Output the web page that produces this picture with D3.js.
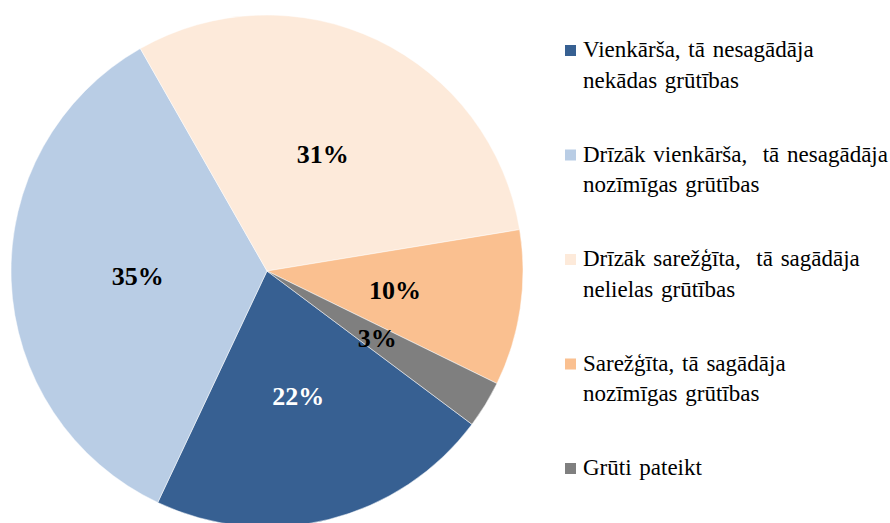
<!DOCTYPE html>
<html><head><meta charset="utf-8">
<script src="https://cdn.jsdelivr.net/npm/d3@7"></script>
</head><body style="margin:0">
<svg id="chart" width="890" height="523"></svg>
<script>
const categories = [
  ["Vienkārša, tā nesagādāja", "nekādas grūtības"],
  ["Drīzāk vienkārša,  tā nesagādāja", "nozīmīgas grūtības"],
  ["Drīzāk sarežģīta,  tā sagādāja", "nelielas grūtības"],
  ["Sarežģīta, tā sagādāja", "nozīmīgas grūtības"],
  ["Grūti pateikt"]
];
const values = [21.8, 34.75, 30.66, 9.83, 2.98];
const labels = ["22%", "35%", "31%", "10%", "3%"];
const colors = ["#376092", "#B9CDE5", "#FDEADA", "#FAC090", "#7F7F7F"];
const labelColors = ["#ffffff", "#000000", "#000000", "#000000", "#000000"];

const svg = d3.select("#chart");
const cx = 267, cy = 271, r = 256;
const startDeg = 126.8;
const pie = d3.pie().sort(null).value(d => d)
  .startAngle(startDeg * Math.PI / 180)
  .endAngle((startDeg + 360) * Math.PI / 180);
const arcs = pie(values);
const arc = d3.arc().innerRadius(0).outerRadius(r);
const labelArc = d3.arc().innerRadius(r * 0.505).outerRadius(r * 0.505);

const g = svg.append("g").attr("transform", `translate(${cx},${cy})`);
g.selectAll("path").data(arcs).join("path")
  .attr("d", arc)
  .attr("fill", (d, i) => colors[i])
  .attr("stroke", "#ffffff")
  .attr("stroke-width", 0.5);

arcs.forEach((d, i) => {
  const c = labelArc.centroid(d);
  svg.append("text")
    .attr("x", cx + c[0]).attr("y", cy + c[1] + 9)
    .attr("text-anchor", "middle")
    .style("font-family", '"Liberation Serif"')
    .attr("font-weight", "bold")
    .attr("font-size", 26)
    .attr("fill", labelColors[i])
    .text(labels[i]);
});

const lx = 565, ly0 = 57, lstep = 104.5, lineH = 30.5;
categories.forEach((lines, i) => {
  const y = ly0 + i * lstep;
  svg.append("rect")
    .attr("x", lx).attr("y", y - 12).attr("width", 11).attr("height", 11)
    .attr("fill", colors[i]);
  lines.forEach((ln, j) => {
    svg.append("text")
      .attr("x", lx + 18).attr("y", y + j * lineH)
      .style("font-family", '"Liberation Serif"')
      .style("word-spacing", "2px")
      .attr("font-size", 23)
      .attr("fill", "#000")
      .attr("xml:space", "preserve")
      .text(ln);
  });
});
</script>
</body></html>
